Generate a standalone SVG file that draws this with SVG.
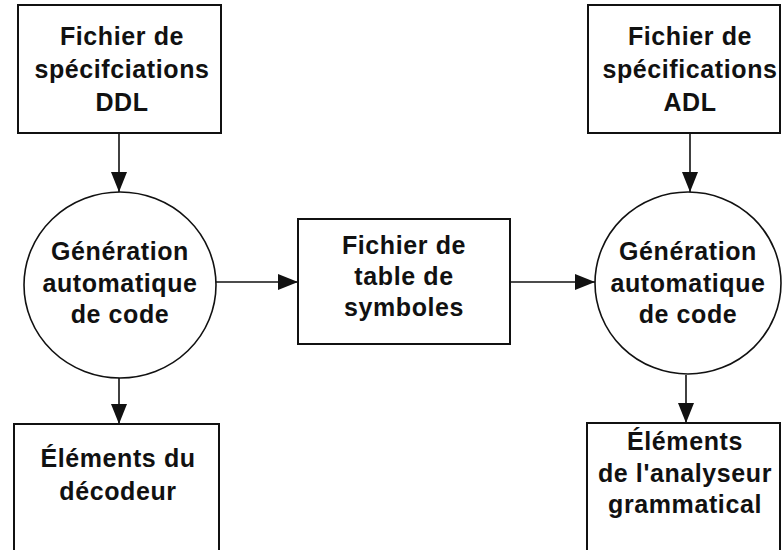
<svg xmlns="http://www.w3.org/2000/svg" width="782" height="550" viewBox="0 0 782 550">
  <style>
    .box { fill: #fff; stroke: #111; stroke-width: 2; }
    .proc { fill: #fff; stroke: #111; stroke-width: 1.6; }
    .lbl { font-family: "Liberation Sans", Arial, sans-serif; font-weight: bold; font-size: 25px; fill: #111; text-anchor: middle; letter-spacing: 0.6px; }
    .edge { stroke: #111; stroke-width: 1.6; fill: none; marker-end: url(#arrow); }
  </style>
  <defs>
    <marker id="arrow" viewBox="0 0 20 16" refX="20" refY="8" markerWidth="20" markerHeight="16" markerUnits="userSpaceOnUse" orient="auto">
      <path d="M0,0 L20,8 L0,16 Z" fill="#111"/>
    </marker>
  </defs>
  <rect width="782" height="550" fill="#fff"/>

  <g id="connectors">
    <line class="edge" x1="119" y1="133" x2="119" y2="192"/>
    <line class="edge" x1="690" y1="133" x2="690" y2="192"/>
    <line class="edge" x1="215" y1="282" x2="298" y2="282"/>
    <line class="edge" x1="510" y1="282" x2="595" y2="282"/>
    <line class="edge" x1="119" y1="378" x2="119" y2="424"/>
    <line class="edge" x1="686" y1="375" x2="686" y2="423"/>
  </g>

  <g id="ddl-spec">
    <rect class="box" x="18" y="5" width="203" height="128"/>
    <text class="lbl" x="122" y="45">Fichier de</text>
    <text class="lbl" x="122" y="78">spécifciations</text>
    <text class="lbl" x="122" y="111">DDL</text>
  </g>

  <g id="adl-spec">
    <rect class="box" x="588" y="5" width="192" height="128"/>
    <text class="lbl" x="690" y="45">Fichier de</text>
    <text class="lbl" x="690" y="78">spécifications</text>
    <text class="lbl" x="690" y="111">ADL</text>
  </g>

  <g id="gen-left">
    <ellipse class="proc" cx="120" cy="285" rx="96" ry="93"/>
    <text class="lbl" x="120" y="260">Génération</text>
    <text class="lbl" x="120" y="292">automatique</text>
    <text class="lbl" x="120" y="323">de code</text>
  </g>

  <g id="symbol-table">
    <rect class="box" x="298" y="219" width="212" height="125"/>
    <text class="lbl" x="404" y="254">Fichier de</text>
    <text class="lbl" x="404" y="285">table de</text>
    <text class="lbl" x="404" y="316">symboles</text>
  </g>

  <g id="gen-right">
    <ellipse class="proc" cx="688" cy="283" rx="93" ry="91"/>
    <text class="lbl" x="688" y="260">Génération</text>
    <text class="lbl" x="688" y="292">automatique</text>
    <text class="lbl" x="688" y="323">de code</text>
  </g>

  <g id="decoder">
    <rect class="box" x="14" y="424" width="205" height="130"/>
    <text class="lbl" x="118" y="467">Éléments du</text>
    <text class="lbl" x="118" y="500">décodeur</text>
  </g>

  <g id="parser">
    <rect class="box" x="587" y="423" width="193" height="130"/>
    <text class="lbl" x="685" y="450">Éléments</text>
    <text class="lbl" x="685" y="482">de l'analyseur</text>
    <text class="lbl" x="685" y="513">grammatical</text>
  </g>
</svg>
